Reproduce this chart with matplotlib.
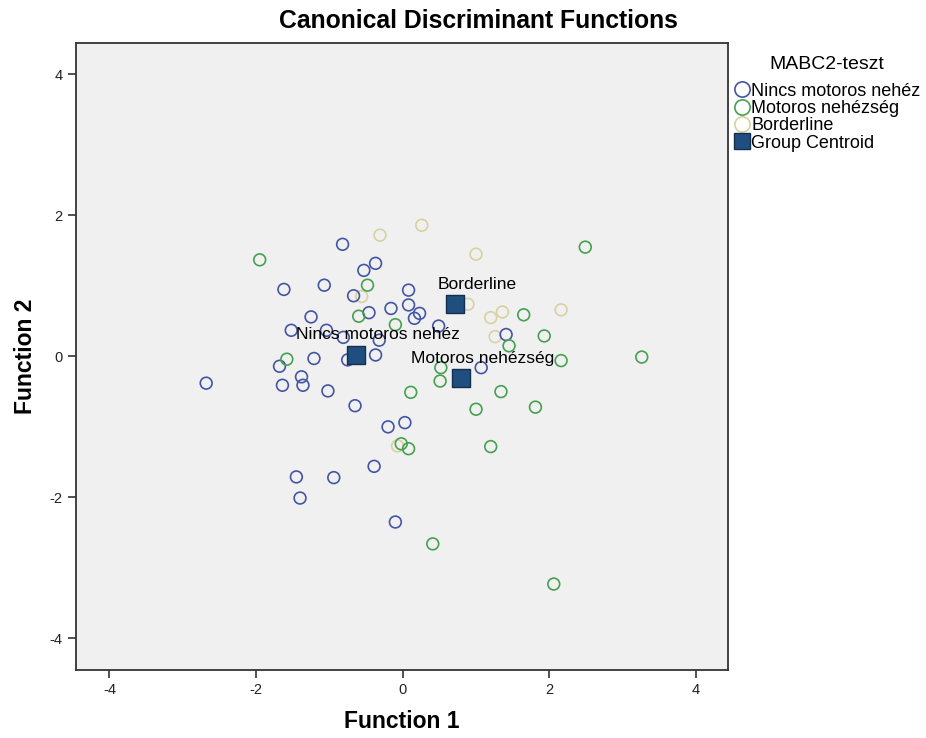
import numpy as np
import matplotlib
matplotlib.use("Agg")
from matplotlib import pyplot as plt
from matplotlib.lines import Line2D

plt.rcParams['font.family'] = ['Liberation Sans', 'DejaVu Sans']
plt.rcParams['axes.unicode_minus'] = False

# group 1: Nincs motoros nehéz
nincs_x = [-2.68, -0.82, -0.37, -0.53, -1.07, -1.62, -0.67, 0.08, 0.08, -0.16,
           0.23, 0.16, -0.46, -1.25, -1.52, -1.04, -0.81, -0.32, 0.49, 1.41,
           1.07, -1.68, -1.64, -1.38, -1.36, -1.21, -1.02, -0.65, -0.37, -0.75,
           -0.20, 0.03, -0.39, -1.45, -0.94, -1.40, -0.10]
nincs_y = [-0.38, 1.59, 1.32, 1.22, 1.01, 0.95, 0.86, 0.94, 0.73, 0.68,
           0.61, 0.54, 0.62, 0.56, 0.37, 0.37, 0.27, 0.23, 0.43, 0.31,
           -0.16, -0.14, -0.41, -0.29, -0.41, -0.03, -0.49, -0.70, 0.02, -0.05,
           -1.00, -0.94, -1.56, -1.71, -1.72, -2.01, -2.35]

# group 2: Motoros nehézség
motoros_x = [-1.95, -0.48, -0.60, -0.10, -1.58, 2.49, 1.65, 1.93, 1.45, 2.16,
             3.26, 0.52, 0.51, 0.11, 1.00, 1.34, 1.81, 1.20, -0.02, 0.08,
             0.41, 2.06]
motoros_y = [1.37, 1.01, 0.57, 0.45, -0.04, 1.55, 0.59, 0.29, 0.15, -0.06,
             -0.01, -0.16, -0.35, -0.51, -0.75, -0.50, -0.72, -1.28, -1.24, -1.31,
             -2.66, -3.23]

# group 3: Borderline
border_x = [-0.31, 0.26, 1.00, -0.56, 0.89, 1.20, 1.36, 2.16, 1.26, -0.07]
border_y = [1.72, 1.86, 1.45, 0.85, 0.74, 0.55, 0.63, 0.66, 0.28, -1.27]

# group centroids
centroid_names = ['Nincs motoros nehéz', 'Motoros nehézség', 'Borderline']
centroid_x = [-0.64, 0.79, 0.71]
centroid_y = [0.02, -0.31, 0.74]

BLUE = '#4455a3'
GREEN = '#45a150'
BEIGE = '#d8d2a0'
NAVY = '#1f4e7f'

fig = plt.figure(figsize=(9.26, 7.38), dpi=100)
ax = fig.add_axes([0.0817, 0.0921, 0.7048, 0.8500])
ax.set_facecolor('#f0f0f0')

ax.scatter(nincs_x, nincs_y, s=72, facecolors='none', edgecolors=BLUE,
           linewidths=1.2, zorder=3)
ax.scatter(motoros_x, motoros_y, s=72, facecolors='none', edgecolors=GREEN,
           linewidths=1.2, zorder=3)
ax.scatter(border_x, border_y, s=72, facecolors='none', edgecolors=BEIGE,
           linewidths=1.2, zorder=2)
ax.scatter(centroid_x, centroid_y, s=180, marker='s', facecolors=NAVY,
           edgecolors='#14304f', linewidths=1.0, zorder=4)

for name, cx, cy in zip(centroid_names, centroid_x, centroid_y):
    ax.annotate(name, (cx, cy), xytext=(22, 20), textcoords='offset pixels',
                ha='center', va='center', fontsize=12.5, color='black', zorder=5)

ax.set_xlim(-4.46, 4.44)
ax.set_ylim(-4.45, 4.45)
ax.set_xticks([-4, -2, 0, 2, 4])
ax.set_yticks([-4, -2, 0, 2, 4])
ax.tick_params(direction='out', length=6, width=1.2, color='#333333',
               labelsize=10.5, labelcolor='#222222', top=False, right=False)
for sp in ax.spines.values():
    sp.set_color('#333333')
    sp.set_linewidth(1.3)

ax.set_xlabel('Function 1', fontsize=16.5, fontweight='bold', labelpad=9)
ax.set_ylabel('Function 2', fontsize=16.5, fontweight='bold', labelpad=9)
fig.text(0.517, 0.971, 'Canonical Discriminant Functions', ha='center',
         va='center', fontsize=17.8, fontweight='bold')

handles = [
    Line2D([], [], ls='none', marker='o', ms=11, mfc='none', mec=BLUE, mew=1.2),
    Line2D([], [], ls='none', marker='o', ms=11, mfc='none', mec=GREEN, mew=1.2),
    Line2D([], [], ls='none', marker='o', ms=11, mfc='none', mec=BEIGE, mew=1.2),
    Line2D([], [], ls='none', marker='s', ms=11, mfc=NAVY, mec='#14304f', mew=1.0),
]
labels = ['Nincs motoros nehéz', 'Motoros nehézség', 'Borderline', 'Group Centroid']
leg = fig.legend(handles, labels, loc='upper left',
                 bbox_to_anchor=(734 / 926, 1 - 56 / 738), frameon=False,
                 title='MABC2-teszt', fontsize=13, title_fontsize=14,
                 handletextpad=0.05, labelspacing=0.02, borderaxespad=0.0,
                 borderpad=0.0, handlelength=0.9)
leg._legend_box.align = 'center'
leg._legend_box.sep = 7

fig.savefig('out.png', dpi=100)
